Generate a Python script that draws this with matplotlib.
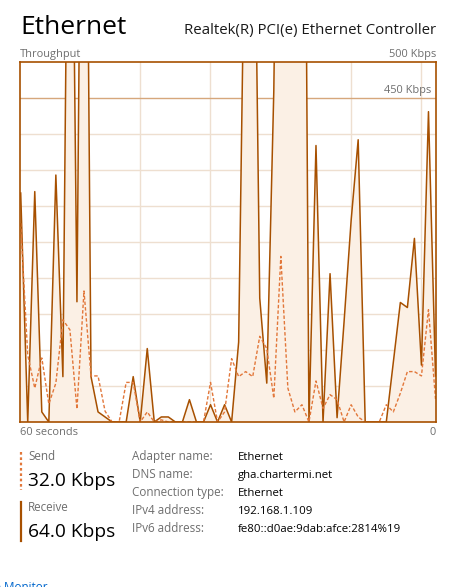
import numpy as np
import matplotlib
matplotlib.use('Agg')
import matplotlib.pyplot as plt

# Throughput samples in Kbps, oldest first (60 seconds, one per second).
# Values above 500 run off the top of the graph.
receive_kbps = [318, 0, 320, 14, 0, 343, 63, 1100, 167, 1300, 63, 14, 7, 0, 0,
                0, 63, 0, 102, 0, 7, 7, 0, 0, 31, 0, 0, 24, 0, 24,
                0, 111, 800, 950, 172, 54, 460, 1200, 1200, 1200, 1500, 0, 384, 0, 206,
                6, 140, 280, 392, 0, 0, 0, 0, 83, 166, 159, 255, 79, 431, 64]
send_kbps = [276, 93, 47, 89, 25, 54, 142, 128, 18, 182, 64, 64, 15, 0, 0,
             55, 55, 0, 14, 0, 3, 0, 0, 0, 0, 0, 0, 55, 0, 14,
             88, 63, 70, 63, 119, 102, 33, 230, 47, 14, 24, 0, 57, 19, 38,
             31, 0, 24, 7, 0, 0, 0, 24, 14, 40, 70, 70, 64, 156, 32]

y_max = 500
y_label = 450
info_labels = ['Adapter name:', 'DNS name:', 'Connection type:',
               'IPv4 address:', 'IPv6 address:']
info_values = ['Ethernet', 'gha.chartermi.net', 'Ethernet',
               '192.168.1.109', 'fe80::d0ae:9dab:afce:2814%19']

LINE = '#a75000'
FILL = '#fbf0e5'
SEND = '#e2773a'
GRID = '#eedfd0'
GREY = '#6e6e6e'

W, H = 454, 587
plt.rcParams['font.family'] = ['Open Sans', 'DejaVu Sans']
fig = plt.figure(figsize=(W / 100, H / 100), dpi=100)


# place text using pixel coordinates from the top left corner
def txt(x, y, s, size, color='black', ha='left'):
    fig.text(x / W, 1 - y / H, s, fontsize=size, color=color, ha=ha, va='baseline')


ax = fig.add_axes([20 / W, 1 - 422 / H, 416 / W, 360 / H])
xs = np.arange(len(receive_kbps))

ax.fill_between(xs, receive_kbps, 0, color=FILL, lw=0, zorder=1)
ax.plot(xs, receive_kbps, color=LINE, lw=1.1, zorder=3)
ax.plot(xs, send_kbps, color=SEND, lw=1.0, dashes=(2.5, 1.5), zorder=3)

ax.set_xlim(-0.1, 59.07)
ax.set_ylim(0, y_max)

# grid scrolls with the data, so the vertical lines are offset
for gx in np.arange(6.95, 60, 10):
    ax.axvline(gx, color=GRID, lw=1.0, zorder=0)
for gy in range(50, y_max, 50):
    ax.axhline(gy, color='#d6a77c' if gy == y_label else GRID, lw=1.0, zorder=0)

ax.set_xticks([])
ax.set_yticks([])
for sp in ax.spines.values():
    sp.set_color(LINE)
    sp.set_linewidth(1.2)
    sp.set_zorder(4)

# header
txt(20, 34, 'Ethernet', 19)
txt(436, 34, 'Realtek(R) PCI(e) Ethernet Controller', 10.8, '#1a1a1a', 'right')
txt(20, 57, 'Throughput', 7.9, GREY)
txt(436, 57, '%d Kbps' % y_max, 7.9, GREY, 'right')
txt(431, 93, '%d Kbps' % y_label, 7.9, GREY, 'right')
txt(20, 435, '60 seconds', 7.9, GREY)
txt(436, 435, '0', 7.9, GREY, 'right')

# send / receive summary
fig.add_artist(plt.Line2D([20.8 / W] * 2, [1 - 452 / H, 1 - 490 / H],
                          color=SEND, lw=1.6, dashes=(1.2, 1.2)))
fig.add_artist(plt.Line2D([20.8 / W] * 2, [1 - 502 / H, 1 - 541 / H],
                          color=LINE, lw=1.6))
txt(28, 460, 'Send', 8.4, GREY)
txt(28, 486, '%.1f Kbps' % send_kbps[-1], 13.8)
txt(28, 511, 'Receive', 8.4, GREY)
txt(28, 537, '%.1f Kbps' % receive_kbps[-1], 13.8)

for i, (lab, val) in enumerate(zip(info_labels, info_values)):
    txt(132.5, 460 + 18 * i, lab, 8.4, GREY)
    txt(237.5, 460 + 18 * i, val, 8.2)

# the link is partly off the window in the screenshot
txt(48, 591, 'Open Resource Monitor', 8.4, '#0066cc', 'right')

fig.savefig('out.png', dpi=100, facecolor='white')
